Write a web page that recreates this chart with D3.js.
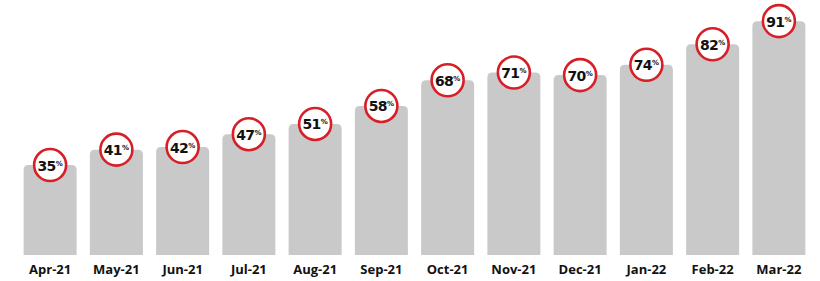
<!DOCTYPE html>
<html><head><meta charset="utf-8">
<script src="https://cdn.jsdelivr.net/npm/d3@7"></script>
<style>body{margin:0;background:#fff}svg{display:block}</style>
</head><body>
<script>
const months = ["Apr-21","May-21","Jun-21","Jul-21","Aug-21","Sep-21","Oct-21","Nov-21","Dec-21","Jan-22","Feb-22","Mar-22"];
const values = [35,41,42,47,51,58,68,71,70,74,82,91];

const W = 820, H = 281;
const svg = d3.select("body").append("svg").attr("width", W).attr("height", H);

const x = d3.scaleBand().domain(months).range([17, 812]).paddingInner(0.2).paddingOuter(0.1);
const y = d3.scaleLinear().domain([0, 100]).range([255, -2]);

const r = 5;
svg.append("g").selectAll("path").data(months).join("path")
  .attr("fill", "#c9c9c9")
  .attr("d", (m, i) => {
    const x0 = x(m), w = x.bandwidth(), y0 = y(values[i]), yb = y(0);
    return `M${x0},${yb}V${y0 + r}Q${x0},${y0} ${x0 + r},${y0}H${x0 + w - r}Q${x0 + w},${y0} ${x0 + w},${y0 + r}V${yb}Z`;
  });

const lab = svg.append("g").selectAll("g").data(months).join("g")
  .attr("transform", (m, i) => `translate(${x(m) + x.bandwidth() / 2},${y(values[i])})`);
lab.append("circle").attr("r", 16).attr("fill", "#fff").attr("stroke", "#d71f27").attr("stroke-width", 2.6);
const t = lab.append("text").attr("text-anchor", "middle").attr("y", 5.5)
  .attr("font-family", "'DejaVu Sans', sans-serif").attr("font-weight", 700).attr("fill", "#111");
t.append("tspan").attr("font-size", 14).attr("letter-spacing", -0.5).text((m, i) => values[i]);
t.append("tspan").attr("font-size", 7).attr("dy", -5).text("%");

svg.append("g").selectAll("text").data(months).join("text")
  .attr("x", m => x(m) + x.bandwidth() / 2).attr("y", 274)
  .attr("text-anchor", "middle").attr("font-family", "'Open Sans', sans-serif")
  .attr("font-weight", 700).attr("font-size", 13).attr("fill", "#111")
  .text(m => m);
</script>
</body></html>
